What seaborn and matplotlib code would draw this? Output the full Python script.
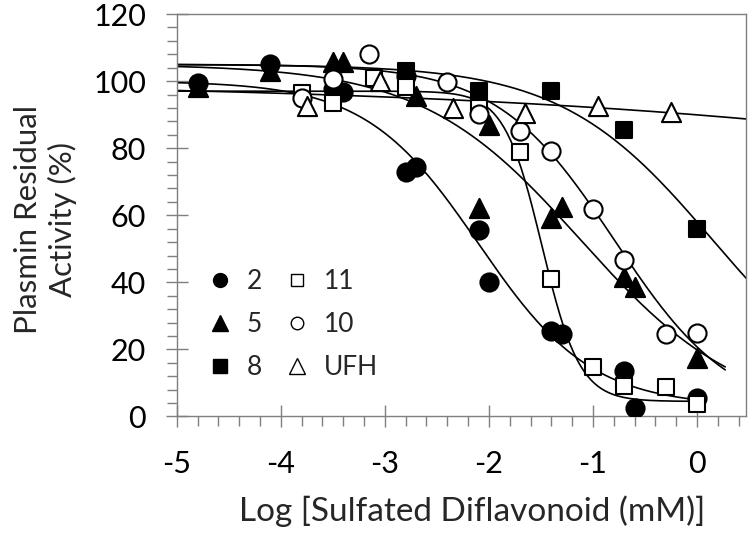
import numpy as np
import pandas as pd
import matplotlib
matplotlib.use("Agg")
import matplotlib.pyplot as plt
import seaborn as sns
from matplotlib.lines import Line2D
from matplotlib.ticker import MultipleLocator

# ---------------- data ----------------
x_2 = [-4.8, -4.1, -3.5, -3.4, -2.8, -2.8, -2.7, -2.1, -2.0, -1.4, -1.3, -0.7, -0.6, 0.0]
y_2 = [99.3, 105.0, 97.5, 96.8, 101.5, 73.0, 74.3, 55.5, 40.0, 25.5, 24.6, 13.6, 2.4, 5.6]

x_5 = [-4.8, -4.1, -3.5, -3.4, -2.7, -2.1, -2.0, -1.4, -1.3, -0.7, -0.6, 0.0]
y_5 = [98.3, 103.0, 105.8, 105.8, 95.7, 62.3, 86.8, 59.2, 62.6, 41.6, 38.5, 17.4]

x_8 = [-2.8, -2.1, -1.4, -0.7, 0.0]
y_8 = [103.0, 97.1, 97.1, 85.3, 56.0]

x_11 = [-3.8, -3.5, -3.1, -2.8, -2.1, -1.7, -1.4, -1.0, -0.7, -0.3, 0.0]
y_11 = [96.5, 93.5, 101.0, 98.3, 92.0, 78.9, 40.9, 14.8, 9.0, 8.9, 3.7]

x_10 = [-3.8, -3.5, -3.15, -2.4, -2.1, -1.7, -1.4, -1.0, -0.7, -0.3, 0.0]
y_10 = [95.0, 100.6, 108.0, 99.7, 90.2, 85.0, 79.1, 62.0, 46.6, 24.6, 25.0]

x_ufh = [-3.75, -3.05, -2.35, -1.65, -0.95, -0.25]
y_ufh = [92.5, 100.0, 92.0, 90.5, 92.7, 90.7]

# fitted dose-response (Hill) parameters: top, bottom, logIC50, slope, x-range end
fit_names  = ["2", "5", "8", "11", "10", "UFH"]
fit_top    = [100.0, 105.0, 105.0, 97.0, 105.0, 100.0]
fit_bottom = [3.0, 0.0, 0.0, 4.5, 0.0, 0.0]
fit_logic  = [-2.10, -1.115, 0.153, -1.49, -0.793, 8.06]
fit_slope  = [0.80, 0.567, 0.596, 2.4, 0.768, 0.118]
fit_xend   = [0.0, 0.27, 0.47, 0.0, 0.27, 0.47]

# ---------------- style ----------------
sns.set_style("white")
plt.rcParams["font.family"] = ["Lato", "DejaVu Sans"]
plt.rcParams["axes.unicode_minus"] = False
plt.rcParams["axes.linewidth"] = 1.0

fig = plt.figure(figsize=(7.5, 5.35), dpi=100)
ax = fig.add_axes([0.2356, 0.2215, 0.7591, 0.7523])

# curves
rows = []
for n, t, b, c, h, xe in zip(fit_names, fit_top, fit_bottom, fit_logic, fit_slope, fit_xend):
    xs = np.linspace(-5.0, xe, 300)
    ys = b + (t - b) / (1.0 + 10.0 ** (h * (xs - c)))
    rows.append(pd.DataFrame({"x": xs, "y": ys, "series": n}))
curves = pd.concat(rows, ignore_index=True)
sns.lineplot(data=curves, x="x", y="y", units="series", estimator=None,
             color="black", linewidth=1.2, ax=ax, legend=False, sort=False)

# points
specs = [
    ("2", x_2, y_2, "o", "black", 170),
    ("5", x_5, y_5, "^", "black", 190),
    ("8", x_8, y_8, "s", "black", 130),
    ("11", x_11, y_11, "s", "white", 130),
    ("10", x_10, y_10, "o", "white", 170),
    ("UFH", x_ufh, y_ufh, "^", "white", 190),
]
for name, xs, ys, m, fc, s in specs:
    df = pd.DataFrame({"x": xs, "y": ys})
    sns.scatterplot(data=df, x="x", y="y", marker=m, s=s, color=fc,
                    edgecolor="black", linewidth=1.5, ax=ax, legend=False, zorder=3)

# axes
ax.set_xlim(-5, 0.47)
ax.set_ylim(0, 120)
ax.xaxis.set_major_locator(MultipleLocator(1))
ax.xaxis.set_minor_locator(MultipleLocator(0.2))
ax.yaxis.set_major_locator(MultipleLocator(20))
ax.yaxis.set_minor_locator(MultipleLocator(4))
ax.tick_params(axis="both", which="both", bottom=True, left=True, top=False, right=False)
ax.tick_params(axis="both", which="major", direction="inout", length=16, width=1.0,
               color="#7f7f7f", labelsize=22, labelcolor="black")
ax.tick_params(axis="both", which="minor", direction="out", length=7, width=1.0,
               color="#7f7f7f")
ax.tick_params(axis="y", which="major", pad=14)
ax.tick_params(axis="x", which="major", pad=16)
for sp in ax.spines.values():
    sp.set_visible(True)
    sp.set_color("#7f7f7f")
    sp.set_linewidth(1.0)

ax.set_xlabel("Log [Sulfated Diflavonoid (mM)]", fontsize=24)
ax.xaxis.set_label_coords(0.519, -0.197)
ax.set_ylabel("Plasmin Residual\nActivity (%)", fontsize=22.5, linespacing=1.25)
ax.yaxis.set_label_coords(-0.175, 0.49)

# legend
handles = [
    Line2D([], [], ls="none", marker="o", ms=10, mfc="black", mec="black"),
    Line2D([], [], ls="none", marker="^", ms=11, mfc="black", mec="black"),
    Line2D([], [], ls="none", marker="s", ms=10, mfc="black", mec="black"),
    Line2D([], [], ls="none", marker="s", ms=9, mfc="white", mec="black", mew=1.0),
    Line2D([], [], ls="none", marker="o", ms=9, mfc="white", mec="black", mew=1.0),
    Line2D([], [], ls="none", marker="^", ms=11, mfc="white", mec="black", mew=1.0),
]
labels = ["2", "5", "8", "11", "10", "UFH"]
ax.legend(handles, labels, ncol=2, frameon=False, loc="upper left",
          bbox_to_anchor=(0.055, 0.366), fontsize=19, handlelength=0.9,
          handletextpad=0.55, columnspacing=0.9, labelspacing=0.68,
          borderpad=0, borderaxespad=0)

fig.savefig("out.png", dpi=100)
